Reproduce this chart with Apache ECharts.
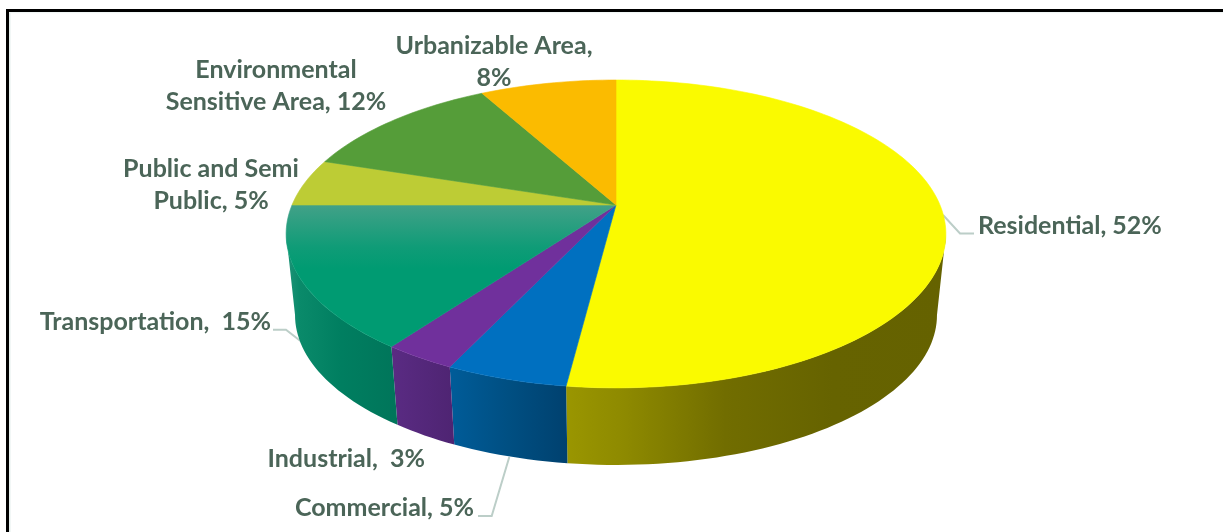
<!DOCTYPE html>
<html>
<head>
<meta charset="utf-8">
<style>html,body{margin:0;padding:0;background:#fff}#chart{width:1223px;height:532px}</style>
<script src="https://cdn.jsdelivr.net/npm/echarts@6/dist/echarts.min.js"></script>
</head>
<body>
<div id="chart"></div>
<script>
// Land use shares, clockwise from twelve o'clock
const categories = ['Residential', 'Commercial', 'Industrial', 'Transportation',
  'Public and Semi\nPublic', 'Environmental\nSensitive Area', 'Urbanizable Area'];
const shares = [52, 5, 3, 15, 5, 12, 8];
const separators = [', ', ', ', ',  ', ',  ', ', ', ', ', ',\n'];

// Face and wall paint per slice
const faceColors = ['#fafa00', '#0070c0', '#70309c',
  { stops: [[0, '#42a188'], [0.3, '#0f9c77'], [0.45, '#009b72'], [1, '#009b72']], vertical: true },
  '#bdcc35', '#559d39', '#fbbb00'];
const wallColors = [
  [[0, '#9a9600'], [0.15, '#8e8a00'], [0.42, '#716d00'], [0.7, '#666300'], [1, '#656200']],
  [[0, '#005c99'], [0.5, '#004f82'], [1, '#00416f']],
  [[0, '#5a2b83'], [1, '#4e2472']],
  [[0, '#1f9478'], [0.12, '#0a8a6a'], [0.5, '#007e60'], [1, '#00755a']],
  null, null, null];

// Perspective disc: hub position, half axes, and foreshortening strength
const disc = { x: 616, y: 205, a: 324, b: 148.5, k: 0.188 };
const floor = { y: 287, scale: 0.973 };
const wallFrom = 100.8, wallTo = 259.2;   // degrees where the rim turns away from the viewer

function project(deg, onFloor) {
  const t = deg * Math.PI / 180, u = Math.sin(t), v = Math.cos(t);
  const d = 1 + disc.k * v;
  const s = onFloor ? floor.scale : 1;
  return [disc.x + s * disc.a * u / d, (onFloor ? floor.y : disc.y) - s * disc.b * v / d];
}
function rim(from, to, onFloor) {
  const n = Math.max(2, Math.ceil(Math.abs(to - from) / 1.5));
  const pts = [];
  for (let i = 0; i <= n; i++) pts.push(project(from + (to - from) * i / n, onFloor));
  return pts;
}
function paint(c) {
  const grad = (stops, vertical) => ({
    type: 'linear', x: 0, y: 0, x2: vertical ? 0 : 1, y2: vertical ? 1 : 0,
    colorStops: stops.map(s => ({ offset: s[0], color: s[1] }))
  });
  if (typeof c === 'string') return c;
  return c.stops ? grad(c.stops, c.vertical) : grad(c, false);
}

// Cumulative angles come straight from the share values
const total = shares.reduce((a, b) => a + b, 0);
let running = 0;
const sliceData = shares.map((s, i) => {
  const start = running / total * 360;
  running += s;
  return { name: categories[i], value: [start, running / total * 360, s, i] };
});

function renderFace(params, api) {
  const from = api.value(0), to = api.value(1), i = api.value(3);
  const fill = paint(faceColors[i]);
  return {
    type: 'polygon',
    shape: { points: [[disc.x, disc.y]].concat(rim(from, to, false)) },
    style: { fill: fill, stroke: fill, lineWidth: 0.6 }
  };
}
function renderWall(params, api) {
  const from = Math.max(api.value(0), wallFrom), to = Math.min(api.value(1), wallTo);
  const i = api.value(3);
  if (to <= from || !wallColors[i]) return null;
  const fill = paint(wallColors[i]);
  return {
    type: 'polygon',
    shape: { points: rim(from, to, false).concat(rim(from, to, true).reverse()) },
    style: { fill: fill }
  };
}

// Callout placement: [x, y, align] of each label block, in slice order
const labelSpots = [[978, 226, 'left'], [474, 508, 'right'], [425, 459, 'right'], [271, 322, 'right'],
  [211, 185, 'center'], [276, 86, 'center'], [494, 62, 'center']];
const textColor = '#4b6558';
const labelGraphics = categories.map((name, i) => ({
  type: 'text', x: labelSpots[i][0], y: labelSpots[i][1], silent: true,
  style: {
    text: name + separators[i] + shares[i] + '%',
    fill: textColor, font: 'bold 25px Lato, sans-serif', lineHeight: 32,
    align: labelSpots[i][2], verticalAlign: 'middle'
  }
}));

// Leader lines for the three callouts that sit away from their slices
const leaders = [
  [[943, 215], [960, 233.5], [974, 233.5]],
  [[310.7, 349], [286, 329.7], [273, 329.7]],
  [[509.3, 457], [491.7, 516], [478, 516]]
].map(points => ({
  type: 'polyline', silent: true, shape: { points: points },
  style: { stroke: '#bccec8', lineWidth: 2, fill: null }
}));

// Slide frame, open at the right and bottom of the page
const frame = [
  { type: 'line', silent: true, shape: { x1: 9.5, y1: 13, x2: 9.5, y2: 532 }, style: { stroke: '#e6efed', lineWidth: 2 } },
  { type: 'line', silent: true, shape: { x1: 9, y1: 12.5, x2: 1223, y2: 12.5 }, style: { stroke: '#f1f6f5', lineWidth: 1.5 } },
  { type: 'line', silent: true, shape: { x1: 6, y1: 10.5, x2: 1223, y2: 10.5 }, style: { stroke: '#000', lineWidth: 3 } },
  { type: 'line', silent: true, shape: { x1: 7.5, y1: 9, x2: 7.5, y2: 532 }, style: { stroke: '#000', lineWidth: 3 } }
];

const chart = echarts.init(document.getElementById('chart'), null, { renderer: 'canvas' });
chart.setOption({
  animation: false,
  backgroundColor: '#fff',
  graphic: { elements: frame.concat(leaders, labelGraphics) },
  series: [
    { type: 'custom', coordinateSystem: 'none', renderItem: renderWall, data: sliceData, silent: true, clip: false, z: 1 },
    { type: 'custom', coordinateSystem: 'none', renderItem: renderFace, data: sliceData, silent: true, clip: false, z: 2 }
  ]
});
</script>
</body>
</html>
